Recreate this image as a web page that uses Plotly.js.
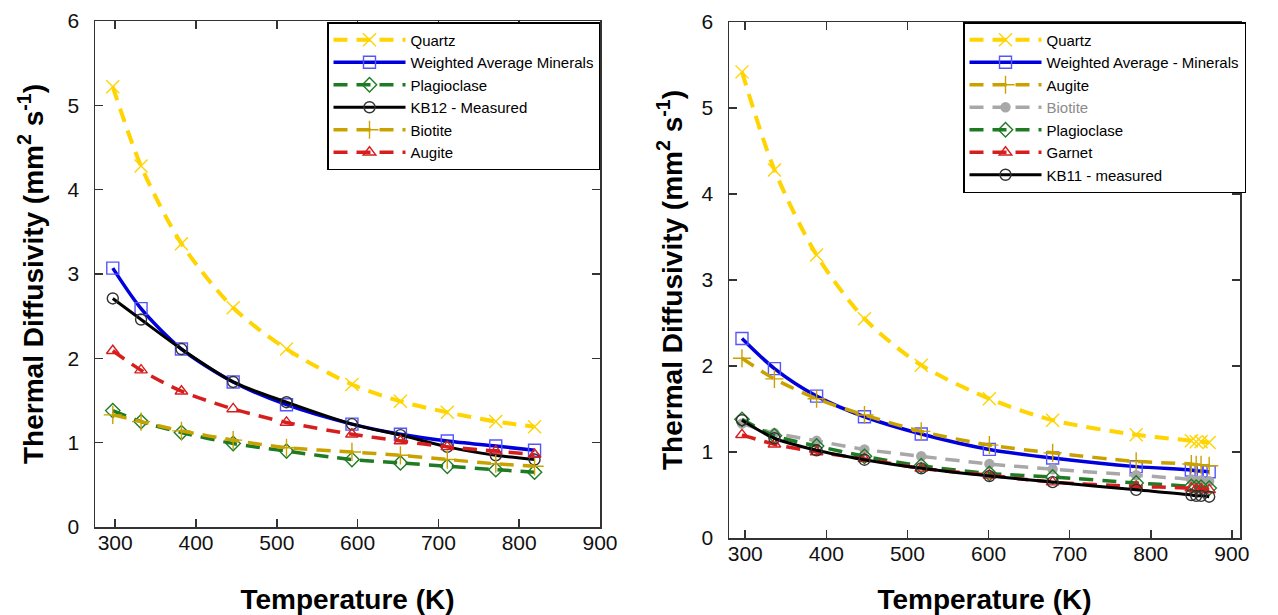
<!DOCTYPE html>
<html>
<head>
<meta charset="utf-8">
<script src="https://cdn.plot.ly/plotly-3.0.1.min.js"></script>
<style>html,body{margin:0;padding:0;background:#fff;}#plot{width:1278px;height:615px;}</style>
</head>
<body>
<div id="plot"></div>
<script>
// ---- Left panel (KB12) ----
const tempL = [297, 332, 382, 446, 512, 593, 653, 711, 771, 819];
const quartzL = [5.22, 4.28, 3.36, 2.60, 2.11, 1.69, 1.49, 1.36, 1.25, 1.19];
const weightedL = [3.07, 2.59, 2.11, 1.72, 1.45, 1.22, 1.10, 1.02, 0.96, 0.91];
const plagL = [1.38, 1.25, 1.12, 0.99, 0.90, 0.80, 0.76, 0.72, 0.68, 0.65];
const kb12 = [2.71, 2.46, 2.11, 1.72, 1.48, 1.22, 1.09, 0.95, 0.85, 0.80];
const biotiteL = [1.33, 1.25, 1.14, 1.03, 0.94, 0.89, 0.85, 0.80, 0.75, 0.72];
const augiteL = [2.09, 1.86, 1.61, 1.40, 1.24, 1.10, 1.02, 0.95, 0.90, 0.86];

// ---- Right panel (KB11) ----
const tempR = [296, 336, 388, 447, 517, 601, 679, 782, 850, 856, 862, 872];
const quartzR = [5.42, 4.28, 3.29, 2.55, 2.01, 1.62, 1.37, 1.20, 1.13, 1.12, 1.12, 1.11];
const weightedR = [2.32, 1.97, 1.65, 1.41, 1.21, 1.03, 0.93, 0.83, 0.79, 0.78, 0.78, 0.77];
const augiteR = [2.09, 1.85, 1.62, 1.43, 1.24, 1.08, 0.99, 0.89, 0.86, 0.85, 0.85, 0.84];
const biotiteR = [1.33, 1.22, 1.13, 1.03, 0.95, 0.86, 0.80, 0.73, 0.68, 0.67, 0.67, 0.66];
const plagR = [1.38, 1.19, 1.07, 0.95, 0.84, 0.75, 0.71, 0.64, 0.60, 0.59, 0.59, 0.58];
const garnetR = [1.20, 1.09, 1.00, 0.92, 0.81, 0.73, 0.65, 0.60, 0.58, 0.57, 0.57, 0.56];
const kb11 = [1.37, 1.16, 1.02, 0.91, 0.81, 0.72, 0.65, 0.56, 0.50, 0.49, 0.49, 0.48];

const C = {
  quartz: '#FFD400', blueLine: '#0000DC', blueMk: '#5555FF', green: '#1E7B24',
  black: '#000000', gold: '#C9A200', red: '#D71E1E', gray: '#A8A8A8'
};
const DASH = '14px,9px';

function tr(name, x, y, color, lw, dash, symbol, msize, mcolor, legend, xa, ya, mfill) {
  return {
    type: 'scatter', mode: 'lines+markers', name: name, x: x, y: y,
    xaxis: xa, yaxis: ya, legend: legend,
    line: {color: color, width: lw, dash: dash, shape: 'spline', smoothing: 0.8},
    marker: {symbol: symbol, size: msize, color: mfill || mcolor,
             line: {color: mcolor, width: 1.4}}
  };
}

const data = [
  tr('Quartz', tempL, quartzL, C.quartz, 4, DASH, 'x-thin-open', 13, C.quartz, 'legend', 'x', 'y'),
  tr('Weighted Average Minerals', tempL, weightedL, C.blueLine, 3.5, 'solid', 'square-open', 12, C.blueMk, 'legend', 'x', 'y'),
  tr('Plagioclase', tempL, plagL, C.green, 3.5, DASH, 'diamond-open', 11, C.green, 'legend', 'x', 'y'),
  tr('KB12 - Measured', tempL, kb12, C.black, 3, 'solid', 'circle-open', 11, '#333333', 'legend', 'x', 'y'),
  tr('Biotite', tempL, biotiteL, C.gold, 3.5, DASH, 'cross-thin-open', 13, C.gold, 'legend', 'x', 'y'),
  tr('Augite', tempL, augiteL, C.red, 3.5, DASH, 'triangle-up-open', 11, C.red, 'legend', 'x', 'y'),

  tr('Quartz', tempR, quartzR, C.quartz, 4, DASH, 'x-thin-open', 13, C.quartz, 'legend2', 'x2', 'y2'),
  tr('Weighted Average - Minerals', tempR, weightedR, C.blueLine, 3.5, 'solid', 'square-open', 12, C.blueMk, 'legend2', 'x2', 'y2'),
  tr('Augite', tempR, augiteR, C.gold, 3.5, DASH, 'cross-thin-open', 13, C.gold, 'legend2', 'x2', 'y2'),
  tr('<span style="color:#8c8c8c">Biotite</span>', tempR, biotiteR, C.gray, 3.5, DASH, 'circle', 9, C.gray, 'legend2', 'x2', 'y2', C.gray),
  tr('Plagioclase', tempR, plagR, C.green, 3.5, DASH, 'diamond-open', 11, C.green, 'legend2', 'x2', 'y2'),
  tr('Garnet', tempR, garnetR, C.red, 3.5, DASH, 'triangle-up-open', 11, C.red, 'legend2', 'x2', 'y2'),
  tr('KB11 - measured', tempR, kb11, C.black, 3, 'solid', 'circle-open', 11, '#333333', 'legend2', 'x2', 'y2')
];

const FONT = 'Arial, "Liberation Sans", sans-serif';
const W = 1278, H = 615;
function axisBase() {
  return {
    showline: true, linecolor: '#333', linewidth: 1.5, mirror: 'ticks',
    ticks: 'inside', ticklen: 8, tickwidth: 1.5, tickcolor: '#333',
    showgrid: false, zeroline: false,
    tickfont: {family: FONT, size: 21, color: '#111'}
  };
}
const ytitle = 'Thermal Diffusivity (mm<sup>2</sup> s<sup>-1</sup>)';
const xtitle = 'Temperature (K)';
const titleFont = {family: FONT, size: 28, color: '#000', weight: 'bold'};

const layout = {
  width: W, height: H,
  margin: {l: 0, r: 0, t: 0, b: 0},
  paper_bgcolor: '#fff', plot_bgcolor: '#fff',
  font: {family: FONT},
  xaxis: Object.assign(axisBase(), {domain: [95/W, 600/W], range: [275, 900], dtick: 100, tick0: 0,
    anchor: 'y', ticklabelstandoff: -4,
    title: {text: xtitle, font: titleFont, standoff: 36}}),
  yaxis: Object.assign(axisBase(), {domain: [(H-527)/H, (H-21)/H], range: [0, 6], dtick: 1,
    anchor: 'x', ticklabelstandoff: 10,
    title: {text: ytitle, font: titleFont, standoff: 16}}),
  xaxis2: Object.assign(axisBase(), {domain: [729/W, 1240/W], range: [280, 910], dtick: 100, tick0: 0,
    anchor: 'y2', ticklabelstandoff: -4,
    title: {text: xtitle, font: titleFont, standoff: 30}}),
  yaxis2: Object.assign(axisBase(), {domain: [(H-538)/H, (H-22)/H], range: [0, 6], dtick: 1,
    anchor: 'x2', ticklabelstandoff: 10,
    title: {text: ytitle, font: titleFont, standoff: 11}}),
  legend: {
    x: 600/W, y: (H-22)/H, xanchor: 'right', yanchor: 'top', xref: 'paper', yref: 'paper',
    bgcolor: '#fff', bordercolor: '#000', borderwidth: 1.5,
    font: {family: FONT, size: 15, color: '#000'}, tracegroupgap: 0, itemwidth: 72
  },
  legend2: {
    x: 1246/W, y: (H-22)/H, xanchor: 'right', yanchor: 'top', xref: 'paper', yref: 'paper',
    bgcolor: '#fff', bordercolor: '#000', borderwidth: 1.5,
    font: {family: FONT, size: 15, color: '#000'}, tracegroupgap: 0, itemwidth: 72
  },
  showlegend: true
};

Plotly.newPlot('plot', data, layout, {staticPlot: true, displayModeBar: false});
</script>
</body>
</html>
